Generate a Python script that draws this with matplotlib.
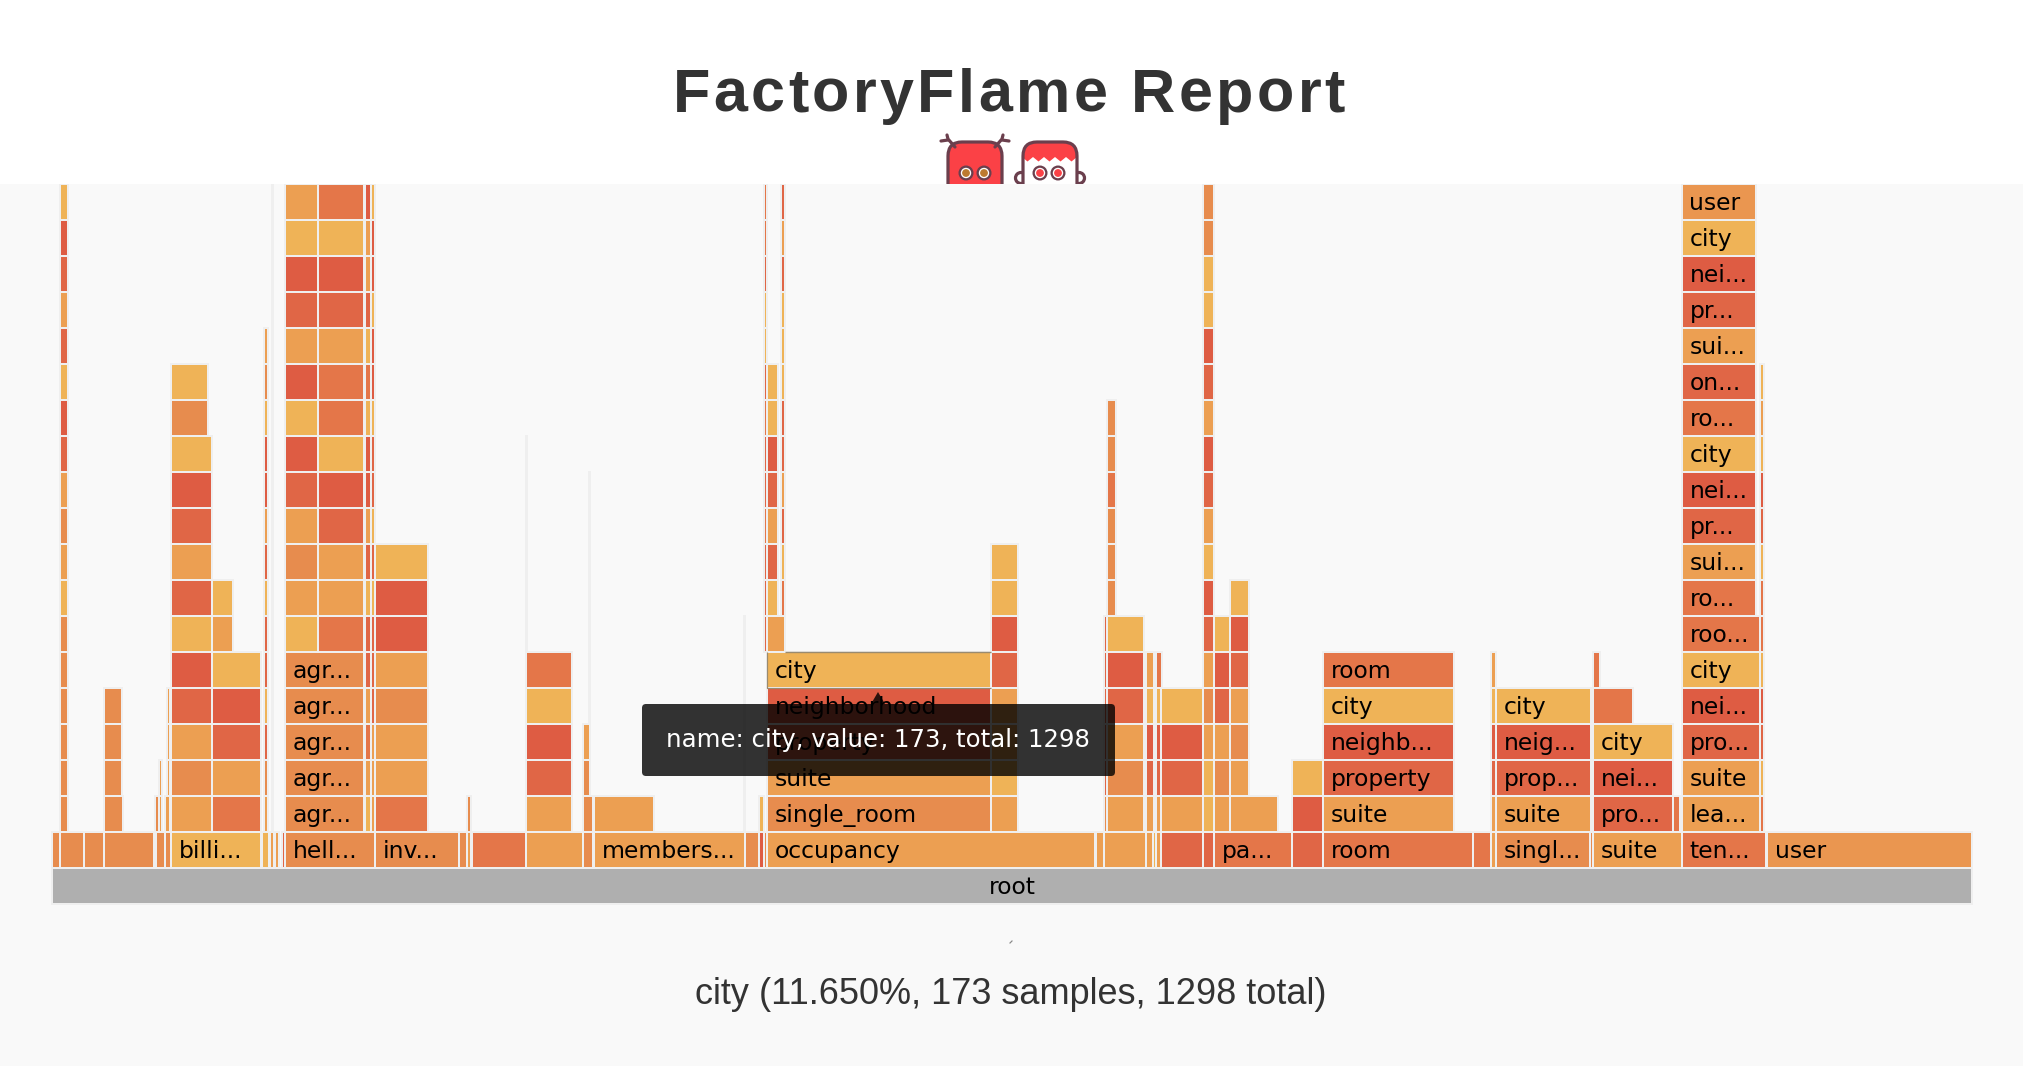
"""
FactoryFlame report page: flame graph of factory calls with a hover tooltip.
"""

import matplotlib
matplotlib.use("Agg")
import matplotlib.pyplot as plt
from matplotlib.font_manager import FontProperties
from matplotlib.patches import Circle, FancyBboxPatch, Polygon

# --- Global Constants ---
WIDTH, HEIGHT = 2024, 1066
DPI = 100
PANEL_TOP = 184  # pixels, flame panel starts below the header
SAMPLES_PER_PIXEL = 0.7734
TOTAL_SAMPLES = 1485
DARK_TEXT = "#333333"
STROKE = "#efefef"

SHADES = {
    "a": "#efb357",
    "b": "#ec9f52",
    "g": "#ea9650",
    "c": "#e78c4e",
    "d": "#e47649",
    "e": "#e06646",
    "f": "#de5c43",
}

# Hovered frame
hover_name = "city"
hover_value = 173
hover_total = 1298
hover_percent = "11.650%"

# Frames directly below root, left to right
base_starts = [0, 6.0, 24.7, 40.0, 80.2, 87.4, 92.0, 162.2, 168.6, 172.5, 177.9, 180.2,
               249.8, 314.8, 321.0, 324.8, 366.6, 410.7, 419.2, 536.0, 546.8, 550.7, 553.0,
               807.4, 813.6, 846.1, 851.5, 853.8, 857.7, 890.2, 898.7, 959.0, 983.0, 1099.0,
               1112.9, 1116.8, 1189.5, 1191.8, 1260.6, 1326.4]
base_values = [6.0, 18.8, 15.2, 38.9, 7.7, 4.6, 69.6, 5.9, 3.1, 3.1, 2.3, 69.6,
               65.0, 6.2, 3.1, 41.8, 44.1, 7.7, 116.8, 10.8, 3.9, 3.1, 253.7,
               6.2, 32.5, 6.2, 3.1, 4.6, 32.5, 8.5, 60.3, 24.0, 116.0, 13.9,
               3.9, 73.5, 2.3, 68.8, 65.0, 158.5]
base_shades = "ccccccaabbecccbdbcbcfcbbbbabeededdbccbdg"

# Stacks above the base frames: start, value, first level, one shade per level
stack_starts = [6.0, 40.0, 40.0, 79.7, 82.4, 87.4, 89.3, 92.0, 92.0, 123.7, 123.7, 164.0,
                170.0, 180.2, 180.2, 205.7, 242.1, 246.7, 249.8, 321.0, 366.6, 366.6, 410.7,
                410.7, 415.3, 419.2, 535.0, 546.8, 550.7, 553.0, 553.0, 553.0, 563.8, 726.2,
                814.0, 815.9, 815.9, 846.1, 853.8, 857.7, 890.2, 898.7, 911.0, 911.0, 959.0,
                983.0, 1112.9, 1116.8, 1191.8, 1191.8, 1191.8, 1253.7, 1260.6, 1260.6, 1321.0]
stack_values = [6.2, 14.9, 13.9, 3.1, 2.5, 3.9, 2.3, 31.7, 28.6, 37.9, 16.2, 3.1,
                0.8, 61.1, 25.8, 35.6, 4.6, 3.1, 41.0, 3.1, 35.6, 0.8, 7.7,
                5.4, 0.8, 46.4, 0.9, 3.9, 2.3, 173.0, 13.9, 8.5, 3.1, 20.9,
                2.3, 28.6, 7.0, 6.2, 4.6, 32.5, 8.5, 12.4, 37.1, 14.7, 24.0,
                101.3, 3.9, 73.5, 61.9, 30.9, 5.4, 5.4, 60.3, 57.2, 3.1]
stack_first_levels = [2, 2, 3, 2, 2, 2, 3, 2, 13, 2, 7, 2,
                      2, 2, 7, 7, 2, 2, 2, 2, 2, 7, 2,
                      3, 5, 2, 2, 2, 7, 2, 7, 8, 8, 2,
                      2, 2, 8, 2, 2, 2, 2, 2, 2, 3, 2,
                      2, 2, 2, 2, 5, 6, 2, 2, 8, 2]
stack_shades = ["ccccccabcbefaebefa", "c", "ccc", "c", "bb", "b", "bbb", "bcbefaebefa", "ca",
                "dbefa", "ba", "bceaeeaebffacb",
                "bbbbbbbbbbbbbbbbbb", "ccccc", "abcbefafbefab", "dbbefaddbefad",
                "abdbeeaebffadaebbf", "bbbeeeaeaeeaffaffa", "dbbcbffa", "c", "befad", "bbbbbb", "c",
                "cb", "bbbbbbb", "b", "bbbbbb", "a", "eeedeedeaaedd", "cbefa", "b", "aebefaa",
                "daebeeaaaebe", "babbefaa",
                "ceeeee", "bcbefa", "cccdcc", "befab", "befad", "befa",
                "aabcbefabefbefaacc", "bcbefa", "b", "bcbefa", "fa",
                "befad", "befab", "befa", "efa", "d", "d", "d", "bbefad", "dbefadebefag",
                "daefaddaefaba"]

# Frame names drawn inside the wide frames
base_label_starts = [92.0, 180.2, 249.8, 419.2, 553.0, 898.7, 983.0, 1116.8, 1191.8, 1260.6, 1326.4]
base_label_texts = ["billi...", "hell...", "inv...", "members...", "occupancy", "pa...", "room",
                    "singl...", "suite", "ten...", "user"]
stack_label_starts = [180.2, 553.0, 983.0, 1116.8, 1191.8, 1260.6]
stack_label_texts = [
    ["agr...", "agr...", "agr...", "agr...", "agr..."],
    ["single_room", "suite", "property", "neighborhood", "city"],
    ["suite", "property", "neighb...", "city", "room"],
    ["suite", "prop...", "neig...", "city"],
    ["pro...", "nei...", "city"],
    ["lea...", "suite", "pro...", "nei...", "city", "roo...", "ro...", "sui...", "pr...", "nei...",
     "city", "ro...", "on...", "sui...", "pr...", "nei...", "city", "user"],
]


def px(value):
    """Converts a pixel length to points."""
    return value * 72.0 / DPI


def draw_spaced_text(ax, x, y, text, spacing, **kwargs):
    """Draws text letter by letter, since matplotlib has no letter spacing."""
    prop = FontProperties(family=kwargs.pop("family"), weight=kwargs.pop("weight"),
                          size=kwargs.pop("size"))
    renderer = ax.figure.canvas.get_renderer()
    for i, ch in enumerate(text):
        if ch == " ":
            continue
        full, _, _ = renderer.get_text_width_height_descent(text[:i + 1], prop, False)
        own, _, _ = renderer.get_text_width_height_descent(ch, prop, False)
        ax.text(x + full - own + i * spacing, y, ch, fontproperties=prop, va="baseline", ha="left", **kwargs)


def draw_eye(ax, x, y, color):
    ax.add_patch(Circle((x, y), 7.5, fc="#6b3f4d", ec="none"))
    ax.add_patch(Circle((x, y), 5.2, fc="white", ec="none"))
    ax.add_patch(Circle((x, y), 3.9, fc=color, ec="none"))


def draw_mascots(ax):
    """Draws the two monster heads, the flame panel hides their lower part."""
    outline = "#6b3f4d"
    red = "#fb4146"
    lw = px(3.2)

    # antennae of the left head
    for sign in (-1, 1):
        ax.plot([975 + sign * 20, 975 + sign * 27, 975 + sign * 28], [147, 139, 135],
                color=outline, lw=lw, solid_capstyle="round")
        ax.plot([975 + sign * 27, 975 + sign * 34], [140, 141],
                color=outline, lw=lw, solid_capstyle="round")
    ax.add_patch(FancyBboxPatch((948, 142), 54, 70, boxstyle="round,pad=0,rounding_size=14",
                                fc=red, ec=outline, lw=lw))
    draw_eye(ax, 966, 173, "#bd7a2f")
    draw_eye(ax, 984, 173, "#bd7a2f")

    # ears of the right head
    for x in (1021, 1079):
        ax.add_patch(Circle((x, 178), 5.5, fc="white", ec=outline, lw=lw))
    head = FancyBboxPatch((1023, 142), 54, 70, boxstyle="round,pad=0,rounding_size=14",
                          fc="white", ec="none")
    ax.add_patch(head)
    zigzag = [(1020, 130), (1080, 130), (1080, 157)]
    for i in range(11):
        zigzag.append((1077 - i * 5.5, 157 + 4.5 * (i % 2)))
    zigzag.append((1020, 157))
    fringe = Polygon(zigzag, fc=red, ec="none")
    ax.add_patch(fringe)
    fringe.set_clip_path(head)
    ax.add_patch(FancyBboxPatch((1023, 142), 54, 70, boxstyle="round,pad=0,rounding_size=14",
                                fc="none", ec=outline, lw=lw))
    draw_eye(ax, 1040, 173, red)
    draw_eye(ax, 1058, 173, red)


def draw_flame(ax):
    """Draws root, the base frames and the stacks above them."""
    starts, values, levels, colors = [0], [TOTAL_SAMPLES], [0], ["#afafaf"]
    for start, value, shade in zip(base_starts, base_values, base_shades):
        starts.append(start)
        values.append(value)
        levels.append(1)
        colors.append(SHADES[shade])
    for start, value, first, shades in zip(stack_starts, stack_values, stack_first_levels, stack_shades):
        for j, shade in enumerate(shades):
            starts.append(start)
            values.append(value)
            levels.append(first + j)
            colors.append(SHADES[shade])

    ax.bar(starts, 1, width=values, bottom=levels, align="edge", color=colors,
           edgecolor=STROKE, linewidth=px(2))

    # outline of the hovered frame
    city_start, city_level = 553.0, 6
    ax.plot([city_start + hover_value, city_start + 13.9], [city_level + 1, city_level + 1],
            color="#9a8b70", lw=px(1.4), solid_capstyle="butt")
    ax.plot([city_start, city_start, city_start + hover_value], [city_level + 1, city_level, city_level],
            color="#9a8b70", lw=px(1.2), solid_capstyle="butt")

    label_offset = 7.5 * SAMPLES_PER_PIXEL
    baseline = 9.8 / 36
    for start, text in zip(base_label_starts, base_label_texts):
        ax.text(start + label_offset, 1 + baseline, text, color="black", fontsize=16.9, va="baseline")
    for start, texts in zip(stack_label_starts, stack_label_texts):
        for j, text in enumerate(texts):
            ax.text(start + label_offset, 2 + j + baseline, text, color="black", fontsize=16.9, va="baseline")
    ax.text(TOTAL_SAMPLES / 2, baseline, "root", color="black", fontsize=16.9, va="baseline", ha="center")


def main():
    fig = plt.figure(figsize=(WIDTH / DPI, HEIGHT / DPI), dpi=DPI, facecolor="white")

    header = fig.add_axes([0, 0, 1, 1], zorder=0)
    header.set_xlim(0, WIDTH)
    header.set_ylim(HEIGHT, 0)
    header.axis("off")
    draw_spaced_text(header, 672.5, 112, "FactoryFlame Report", 3.4, family="Liberation Sans",
                     weight="bold", size=44, color=DARK_TEXT)
    draw_mascots(header)

    # Flame panel, x in samples and y in stack levels
    panel = fig.add_axes([0, 0, 1, (HEIGHT - PANEL_TOP) / HEIGHT], zorder=1)
    panel.set_facecolor("#f9f9f9")
    panel.set_xlim(-52 * SAMPLES_PER_PIXEL, (WIDTH - 52) * SAMPLES_PER_PIXEL)
    panel.set_ylim((903.5 - HEIGHT) / 36, (903.5 - PANEL_TOP) / 36)
    panel.set_xticks([])
    panel.set_yticks([])
    for spine in panel.spines.values():
        spine.set_visible(False)
    draw_flame(panel)

    # Tooltip and caption sit on top, in page pixels
    overlay = fig.add_axes([0, 0, 1, 1], zorder=2)
    overlay.set_xlim(0, WIDTH)
    overlay.set_ylim(HEIGHT, 0)
    overlay.axis("off")
    overlay.add_patch(FancyBboxPatch((642, 704), 473, 72, boxstyle="round,pad=0,rounding_size=4",
                                     fc=(0, 0, 0, 0.8), ec="none"))
    overlay.add_patch(Polygon([(871, 704), (878, 692), (885, 704)], fc=(0, 0, 0, 0.8), ec="none"))
    overlay.text(666, 747, f"name: {hover_name}, value: {hover_value}, total: {hover_total}",
                 color="white", fontsize=17.6, va="baseline")
    overlay.plot([1010, 1012], [943, 941], color="#888888", lw=px(1.2))
    overlay.text(1011, 1004, f"{hover_name} ({hover_percent}, {hover_value} samples, {hover_total} total)",
                 color=DARK_TEXT, fontsize=26.0, family="Liberation Sans", ha="center", va="baseline")

    fig.savefig("out.png", dpi=DPI, facecolor="white")
    plt.close(fig)


if __name__ == "__main__":
    main()
